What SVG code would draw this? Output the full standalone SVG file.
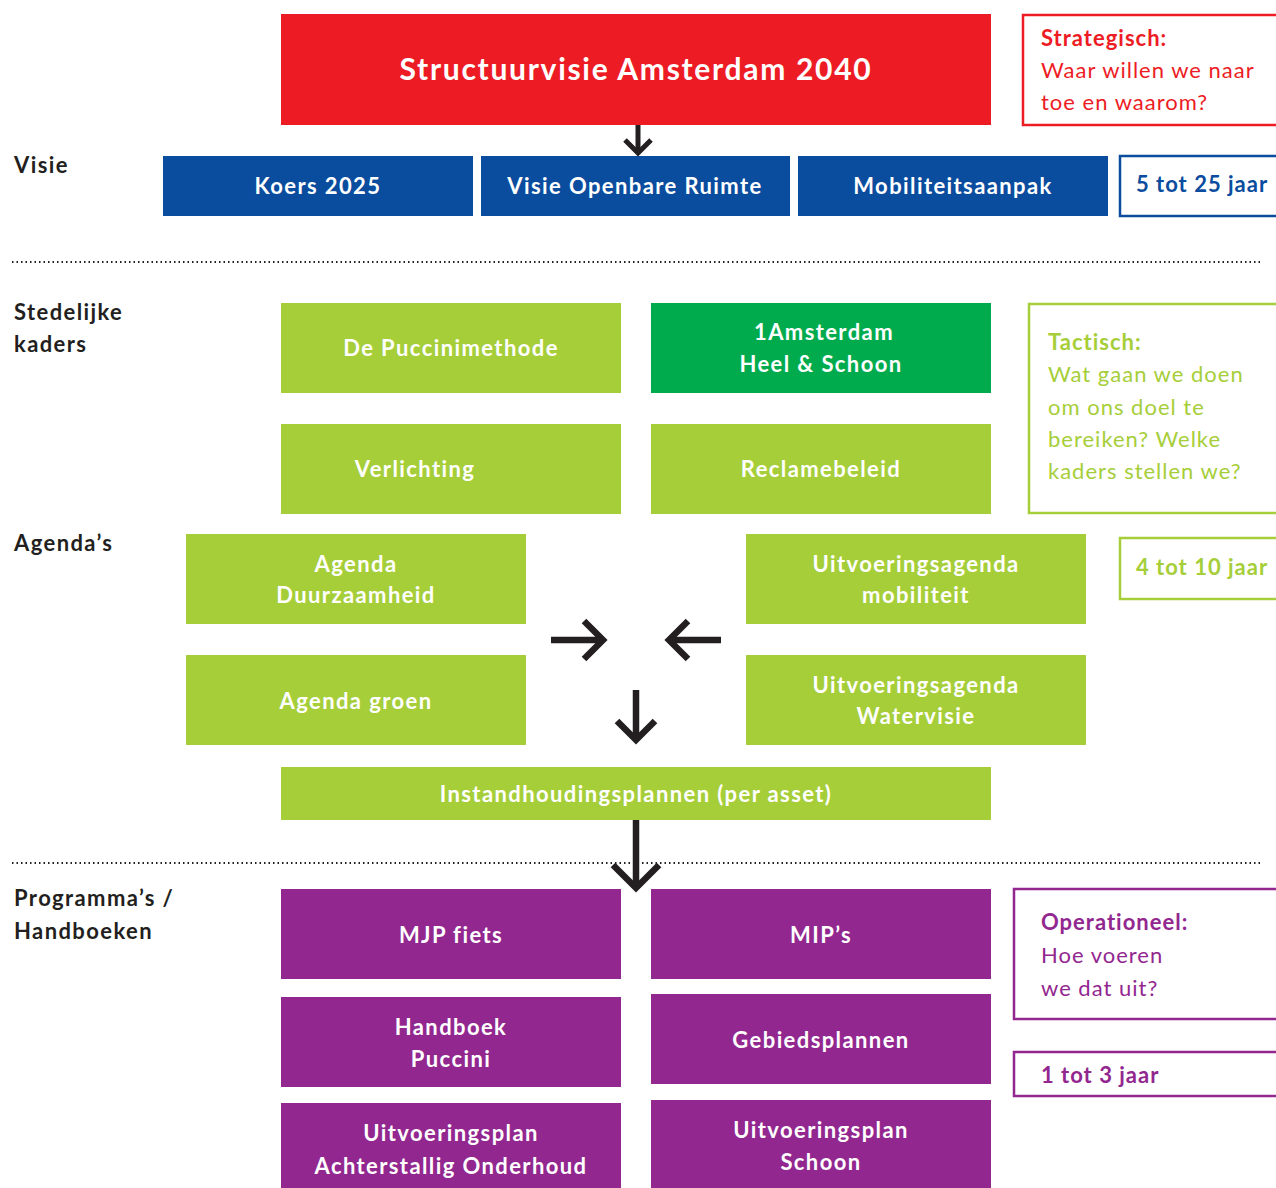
<svg xmlns="http://www.w3.org/2000/svg" width="1276" height="1188" viewBox="0 0 1276 1188">
<style>
text{font-family:Lato,"Noto Sans","Liberation Sans",sans-serif}
.lbl{font-size:22px;font-weight:700;fill:#fff;text-anchor:middle;letter-spacing:1.4px}
.side{font-size:22px;font-weight:700;fill:#231f20;letter-spacing:1.4px}
.red{fill:#ed1c24}.blue{fill:#0a4c9e}.lime{fill:#a6ce39}.green{fill:#00ab4e}.purple{fill:#92278f}
.note{font-size:22px;letter-spacing:1px}
.b{font-weight:700}
.dot{stroke:#231f20;stroke-width:2;stroke-dasharray:1.5 3;fill:none}
.arr{stroke:#231f20;fill:none;stroke-linecap:butt;stroke-linejoin:miter}
</style>
<rect width="1276" height="1188" fill="#fff"/>
<g id="labels">
<text class="side" x="14" y="173">Visie</text>
<text class="side" x="14" y="320">Stedelijke</text>
<text class="side" x="14" y="352">kaders</text>
<text class="side" x="14" y="551">Agenda’s</text>
<text class="side" x="14" y="906">Programma’s /</text>
<text class="side" x="14" y="939">Handboeken</text>
</g>
<g id="separators">
<line class="dot" x1="12" y1="262" x2="1262" y2="262"/>
<line class="dot" x1="12" y1="863" x2="1262" y2="863"/>
</g>
<g id="n-structuurvisie"><rect class="red" x="281" y="14" width="710" height="111"/><text class="lbl" x="636" y="80" style="font-size:30px;letter-spacing:1.7px">Structuurvisie Amsterdam 2040</text></g>
<g id="n-strategisch"><rect x="1023" y="15" width="260" height="110" fill="#fff" stroke="#ed1c24" stroke-width="2.5"/>
<text class="note" x="1041" y="46" fill="#ed1c24"><tspan class="b">Strategisch:</tspan><tspan x="1041" dy="32">Waar willen we naar</tspan><tspan x="1041" dy="32">toe en waarom?</tspan></text></g>
<g id="n-koers"><rect class="blue" x="163" y="156" width="310" height="60"/><text class="lbl" x="318" y="194">Koers 2025</text></g>
<g id="n-visie-or"><rect class="blue" x="481" y="156" width="309" height="60"/><text class="lbl" x="635" y="194">Visie Openbare Ruimte</text></g>
<g id="n-mobiliteit"><rect class="blue" x="798" y="156" width="310" height="60"/><text class="lbl" x="953" y="194">Mobiliteitsaanpak</text></g>
<g id="n-5tot25"><rect x="1120" y="156" width="163" height="60" fill="#fff" stroke="#0a4c9e" stroke-width="2.5"/><text class="note b" x="1136" y="192" fill="#0a4c9e">5 tot 25 jaar</text></g>
<g id="n-puccini"><rect class="lime" x="281" y="303" width="340" height="90"/><text class="lbl" x="451" y="356">De Puccinimethode</text></g>
<g id="n-1amsterdam"><rect class="green" x="651" y="303" width="340" height="90"/><text class="lbl" x="824" y="340">1Amsterdam</text><text class="lbl" x="821" y="372">Heel &amp; Schoon</text></g>
<g id="n-verlichting"><rect class="lime" x="281" y="424" width="340" height="90"/><text class="lbl" x="415" y="477">Verlichting</text></g>
<g id="n-reclame"><rect class="lime" x="651" y="424" width="340" height="90"/><text class="lbl" x="821" y="477">Reclamebeleid</text></g>
<g id="n-tactisch"><rect x="1029" y="304" width="254" height="209" fill="#fff" stroke="#a6ce39" stroke-width="2.5"/>
<text class="note" x="1048" y="350" fill="#a6ce39"><tspan class="b">Tactisch:</tspan><tspan x="1048" dy="32.3">Wat gaan we doen</tspan><tspan x="1048" dy="32.3">om ons doel te</tspan><tspan x="1048" dy="32.3">bereiken? Welke</tspan><tspan x="1048" dy="32.3">kaders stellen we?</tspan></text></g>
<g id="n-duurzaamheid"><rect class="lime" x="186" y="534" width="340" height="90"/><text class="lbl" x="356" y="572">Agenda</text><text class="lbl" x="356" y="603">Duurzaamheid</text></g>
<g id="n-uitv-mob"><rect class="lime" x="746" y="534" width="340" height="90"/><text class="lbl" x="916" y="572">Uitvoeringsagenda</text><text class="lbl" x="916" y="603">mobiliteit</text></g>
<g id="n-4tot10"><rect x="1120" y="538" width="163" height="61" fill="#fff" stroke="#a6ce39" stroke-width="2.5"/><text class="note b" x="1136" y="575" fill="#a6ce39">4 tot 10 jaar</text></g>
<g id="n-groen"><rect class="lime" x="186" y="655" width="340" height="90"/><text class="lbl" x="356" y="709">Agenda groen</text></g>
<g id="n-water"><rect class="lime" x="746" y="655" width="340" height="90"/><text class="lbl" x="916" y="693">Uitvoeringsagenda</text><text class="lbl" x="916" y="724">Watervisie</text></g>
<g id="n-instand"><rect class="lime" x="281" y="767" width="710" height="53"/><text class="lbl" x="636" y="802">Instandhoudingsplannen (per asset)</text></g>
<g id="n-mjp"><rect class="purple" x="281" y="889" width="340" height="90"/><text class="lbl" x="451" y="943">MJP fiets</text></g>
<g id="n-mip"><rect class="purple" x="651" y="889" width="340" height="90"/><text class="lbl" x="821" y="943">MIP’s</text></g>
<g id="n-handboek"><rect class="purple" x="281" y="997" width="340" height="90"/><text class="lbl" x="451" y="1035">Handboek</text><text class="lbl" x="451" y="1067">Puccini</text></g>
<g id="n-gebied"><rect class="purple" x="651" y="994" width="340" height="90"/><text class="lbl" x="821" y="1048">Gebiedsplannen</text></g>
<g id="n-uitv-ao"><rect class="purple" x="281" y="1103" width="340" height="90"/><text class="lbl" x="451" y="1141">Uitvoeringsplan</text><text class="lbl" x="451" y="1174">Achterstallig Onderhoud</text></g>
<g id="n-uitv-schoon"><rect class="purple" x="651" y="1100" width="340" height="90"/><text class="lbl" x="821" y="1138">Uitvoeringsplan</text><text class="lbl" x="821" y="1170">Schoon</text></g>
<g id="n-operationeel"><rect x="1014" y="889" width="269" height="130" fill="#fff" stroke="#92278f" stroke-width="2.5"/>
<text class="note" x="1041" y="930" fill="#92278f"><tspan class="b">Operationeel:</tspan><tspan x="1041" dy="33">Hoe voeren</tspan><tspan x="1041" dy="33">we dat uit?</tspan></text></g>
<g id="n-1tot3"><rect x="1014" y="1052" width="269" height="44" fill="#fff" stroke="#92278f" stroke-width="2.5"/><text class="note b" x="1041" y="1083" fill="#92278f">1 tot 3 jaar</text></g>
<g id="connectors">
<g class="arr" stroke-width="5">
<path d="M638 125V152"/><path d="M625 140L638 153L651 140"/>
</g>
<g class="arr" stroke-width="6.5">
<path d="M551 640H601"/><path d="M584 621L603 640L584 659"/>
<path d="M721 640H671"/><path d="M688 621L669 640L688 659"/>
<path d="M636 690V739"/><path d="M617 721L636 740L655 721"/>
<path d="M636 820V886"/><path d="M613 865L636 888L659 865"/>
</g>
</g>
</svg>
